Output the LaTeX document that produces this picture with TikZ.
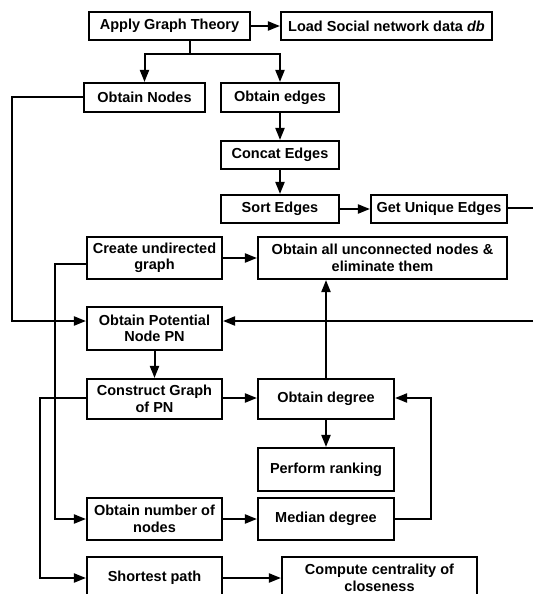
\documentclass[tikz,border=0pt]{standalone}
\usepackage{fontspec}
\setmainfont{Liberation Sans}
\usetikzlibrary{arrows.meta}
\newcommand\mkbox[6]{\node[box, minimum width={#3pt-#2pt}, minimum height={#5pt-#4pt}] (#1) at ({(#2+#3)/2},{(#4+#5)/2}) {#6};}
\begin{document}
\begin{tikzpicture}[x=1pt,y=-1pt,
  box/.style={draw, line width=2.1pt, inner sep=0pt, align=center, font=\fontsize{14.5}{16.5}\selectfont\bfseries},
  conn/.style={line width=2pt},
  arr/.style={conn, -{Triangle[length=12pt,width=9pt]}}]
\useasboundingbox (0,0) rectangle (533,594);
\clip (0,0) rectangle (533,594);
\mkbox{apply}{89}{250}{12}{40}{Apply Graph Theory}
\mkbox{load}{281}{492}{12}{40}{Load Social network data \textit{db}}
\mkbox{obtnodes}{84}{205}{83}{112}{Obtain Nodes}
\mkbox{obtedges}{221}{339}{83}{112}{Obtain edges}
\mkbox{concat}{221}{339}{141}{169}{Concat Edges}
\mkbox{sort}{221}{339}{195}{223}{Sort Edges}
\mkbox{unique}{371}{507}{195}{223}{Get Unique Edges}
\mkbox{create}{87}{222}{237}{279}{Create undirected\\graph}
\mkbox{obtall}{258}{507}{237}{279}{Obtain all unconnected nodes \&\\eliminate them}
\mkbox{pn}{87}{222}{307}{350}{Obtain Potential\\Node PN}
\mkbox{construct}{87}{222}{379}{419}{Construct Graph\\of PN}
\mkbox{obtdeg}{258}{394}{379}{419}{Obtain degree}
\mkbox{rank}{258}{394}{448}{491}{Perform ranking}
\mkbox{numnodes}{87}{222}{498}{540}{Obtain number of\\nodes}
\mkbox{median}{258}{394}{498}{540}{Median degree}
\mkbox{shortest}{87}{222}{557}{599}{Shortest path}
\mkbox{compute}{282}{477}{557}{599}{Compute centrality of\\closeness}
% connectors
\draw[arr] (apply.east) -- (load.west);
\coordinate (br) at (190,54);
\draw[conn] (apply.south -| br) -- (br);
\draw[arr] (br) -| (obtnodes.north);
\draw[arr] (br) -| (obtedges.north);
\draw[arr] (obtedges) -- (concat);
\draw[arr] (concat) -- (sort);
\draw[arr] (sort) -- (unique);
\coordinate (ue) at (533,208);
\draw[conn] (unique.east |- ue) -- (ue);
\coordinate (pe) at (533,321);
\draw[arr] (pe) -- (pn.east |- pe);
\coordinate (l1) at (12,97);
\draw[arr] (obtnodes.west |- l1) -- (l1) |- (pn.west |- pe);
\draw[arr] (create) -- (obtall);
\coordinate (l2) at (55,264);
\coordinate (nn) at (0,519);
\draw[arr] (create.west |- l2) -- (l2) |- (numnodes.west |- nn);
\draw[arr] (pn) -- (construct);
\coordinate (l3) at (40,398);
\draw[arr] (construct.west |- l3) -- (l3) |- (shortest.west);
\draw[arr] (construct.east |- l3) -- (obtdeg.west |- l3);
\draw[arr] (obtdeg.north) -- (obtdeg.north |- obtall.south);
\draw[arr] (obtdeg) -- (rank);
\draw[arr] (numnodes.east |- nn) -- (median.west |- nn);
\coordinate (r3) at (431,519);
\draw[arr] (median.east |- r3) -- (r3) |- (obtdeg.east |- l3);
\draw[arr] (shortest) -- (compute);
\end{tikzpicture}
\end{document}
